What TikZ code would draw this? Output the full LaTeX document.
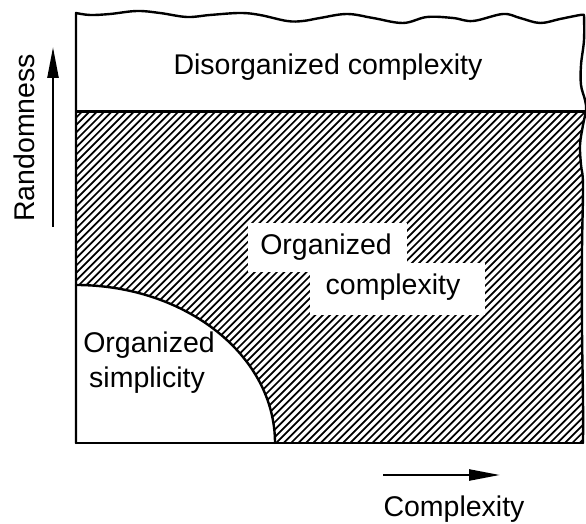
\documentclass[tikz,border=0pt]{standalone}
\usepackage{fontspec}
\setmainfont{Liberation Sans}
\usetikzlibrary{arrows.meta}
\begin{document}
\begin{tikzpicture}[x=1pt,y=1pt,
  border/.style={line width=2.4pt, line join=round, line cap=round},
  hatchline/.style={line width=1.7pt},
  txt/.style={font=\fontsize{28.5}{34}\selectfont, inner sep=0pt, anchor=base},
  axisarrow/.style={line width=2.4pt, -{Triangle[length=31pt,width=11pt]}}]
\useasboundingbox (0,0) rectangle (586,524);
% hatching
\begin{scope}
\clip (76,412.5) -- (586,412.5) -- plot[smooth, tension=0.6] coordinates {(586,412.5)(583,399)(580,379)(581,359)(583,339)(582,274)(582,194)(583,124)(583,81)} -- (275,81) arc[start angle=0,end angle=90,x radius=199,y radius=158] -- cycle;
\foreach \c in {-345,-337.6,...,515} \draw[hatchline] (\c,0) -- ++(600,600);
\end{scope}
% white label boxes in the hatching
\fill[white] (248,301) rectangle (407,252);
\fill[white] (310,261) rectangle (485,209);
% frame
\draw[border] (76,81) -- (76,509) -- plot[smooth, tension=0.6] coordinates {(76,511)(90,509)(110,510)(137,513)(160,511)(187,507)(210,509)(240,511)(260,509)(287,503)(303,503)(320,506)(347,510)(373,506)(403,501)(427,507)(453,506)(473,503)(503,510)(520,506)(540,501)(560,505)(580,509)(584,509)};
\draw[border] plot[smooth, tension=0.6] coordinates {(584,509)(584,484)(581,459)(581,439)(585,424)(586,414)(583,399)(580,379)(581,359)(583,339)(582,274)(582,194)(583,124)(583,81)};
\draw[border] (76,81) -- (583,81);
\draw[line width=3pt] (76,412.5) -- (586,412.5);
\draw[border] (275,81) arc[start angle=0,end angle=90,x radius=199,y radius=158];
% labels
\node[txt] (dis) at (328,449) {Disorganized complexity};
\node[txt] (oc1) at (326,269) {Organized};
\node[txt] (oc2) at (393,229) {complexity};
\node[txt] (os1) at (149,171) {Organized};
\node[txt] (os2) at (147,136) {simplicity};
\node[txt] (cx) at (454,7) {Complexity};
\node[txt, rotate=90] (rd) at (35,386) {Randomness};
% axis arrows
\coordinate (rTail) at (53,297);
\coordinate (rHead) at (53,477);
\coordinate (cTail) at (383,49);
\coordinate (cHead) at (500,49);
\draw[axisarrow] (rTail) -- (rHead);
\draw[axisarrow] (cTail) -- (cHead);
\end{tikzpicture}
\end{document}
